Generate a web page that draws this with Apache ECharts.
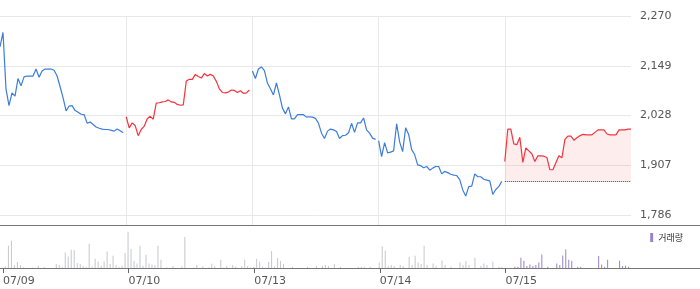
<!DOCTYPE html>
<html>
<head>
<meta charset="utf-8">
<script src="https://cdn.jsdelivr.net/npm/echarts@6/dist/echarts.min.js"></script>
<style>
html, body { margin: 0; padding: 0; background: #fff; }
#chart { width: 700px; height: 289px; }
</style>
</head>
<body>
<div id="chart"></div>
<script>
// 일자 라벨, 하루 구간 수
var dayLabels = ['07/09', '07/10', '07/13', '07/14', '07/15'];
var stepsPerDay = 42;

// 가격 (일자별)
var price0709 = [2195, 2230, 2092, 2052, 2083, 2075, 2118, 2100, 2122, 2124,
                 2124, 2124, 2141, 2121, 2136, 2141, 2141, 2141, 2138, 2124,
                 2098, 2071, 2039, 2051, 2052, 2040, 2036, 2031, 2030, 2009,
                 2012, 2006, 2000, 1997, 1995, 1994, 1994, 1992, 1990, 1995,
                 1991, 1986];
var price0710 = [2025, 1998, 2010, 2003, 1979, 1994, 2002, 2020, 2026, 2019,
                 2058, 2059, 2061, 2062, 2066, 2061, 2060, 2055, 2053, 2054,
                 2112, 2116, 2116, 2128, 2123, 2119, 2130, 2124, 2128, 2124,
                 2111, 2093, 2084, 2083, 2085, 2090, 2089, 2084, 2088, 2082,
                 2083, 2090];
var price0713 = [2136, 2118, 2141, 2146, 2137, 2107, 2093, 2078, 2107, 2078,
                 2046, 2032, 2049, 2020, 2020, 2030, 2030, 2030, 2024, 2025,
                 2024, 2021, 2009, 1985, 1972, 1990, 1995, 1993, 1989, 1972,
                 1979, 1980, 1986, 2009, 1987, 2010, 2010, 2022, 1993, 1985,
                 1973, 1970];
var price0714 = [1967, 1928, 1962, 1937, 1939, 1942, 2008, 1964, 1940, 1998,
                 1982, 1945, 1933, 1908, 1906, 1901, 1904, 1895, 1900, 1904,
                 1904, 1886, 1892, 1889, 1885, 1883, 1882, 1872, 1847, 1832,
                 1855, 1856, 1886, 1879, 1879, 1873, 1871, 1869, 1836, 1848,
                 1855, 1868];
var price0715 = [1916, 1995, 1995, 1959, 1957, 1975, 1914, 1949, 1942, 1935,
                 1916, 1930, 1930, 1929, 1926, 1896, 1896, 1913, 1930, 1925,
                 1970, 1978, 1978, 1968, 1974, 1979, 1982, 1981, 1981, 1981,
                 1987, 1993, 1993, 1993, 1983, 1981, 1981, 1981, 1993, 1993,
                 1993, 1995, 1995];

// 거래량 (일자별)
var volume0709 = [500, 1500, 22300, 27300, 3000, 6000, 3000, 800, 0, 0,
                  500, 0, 2000, 0, 1000, 0, 0, 0, 4000, 3000,
                  1200, 15600, 11600, 18300, 17700, 5000, 4000, 2000, 1000, 24300,
                  1500, 9300, 6600, 2000, 6600, 16600, 4000, 12300, 3000, 1000,
                  2000, 15000];
var volume0710 = [36300, 19000, 7000, 4600, 22300, 2000, 13300, 4600, 3600, 3000,
                  22300, 8300, 0, 500, 0, 2000, 0, 0, 1600, 31000,
                  0, 0, 500, 3000, 0, 1700, 0, 500, 4300, 2000,
                  0, 8300, 500, 2000, 0, 3000, 1600, 0, 2000, 8300,
                  2000, 500];
var volume0713 = [1000, 9300, 6300, 1500, 500, 6000, 17000, 1500, 10000, 7000,
                  4000, 0, 0, 1300, 0, 0, 0, 0, 1300, 0,
                  0, 2000, 0, 2000, 3000, 2000, 0, 4000, 0, 1300,
                  0, 0, 0, 0, 0, 1300, 1300, 1300, 0, 1300,
                  0, 0];
var volume0714 = [5600, 21600, 17600, 2000, 3000, 2000, 0, 3000, 2000, 0,
                  11000, 3000, 12300, 5600, 4000, 22300, 3000, 0, 4600, 2000,
                  0, 7600, 3000, 0, 1300, 0, 0, 5600, 3000, 7000,
                  3000, 0, 10300, 0, 2000, 4600, 3000, 0, 6600, 0,
                  1300, 1000];
var volume0715 = [0, 0, 0, 1300, 1300, 10300, 7300, 2000, 3600, 2000,
                  3000, 5600, 13600, 0, 1300, 0, 0, 4600, 3000, 12600,
                  18600, 8300, 7300, 0, 1300, 1300, 0, 0, 0, 0,
                  0, 12000, 3600, 1300, 8300, 0, 0, 0, 7300, 2000,
                  2300, 1300, 0];

var priceDays = [price0709, price0710, price0713, price0714, price0715];
var volumeDays = [volume0709, volume0710, volume0713, volume0714, volume0715];

var upColor = '#f5333d';
var downColor = '#3b7ddd';
var fontName = 'DejaVu Sans';

var chart = echarts.init(document.getElementById('chart'));
var series = [];
var lastDay = priceDays.length - 1;

// 가격 라인: 전일 종가보다 오르면 빨강, 내리면 파랑
priceDays.forEach(function (vals, k) {
    var prev = k > 0 ? priceDays[k - 1][priceDays[k - 1].length - 1] : vals[0];
    var up = vals[vals.length - 1] >= prev;
    var color = up ? upColor : downColor;
    var s = {
        type: 'line',
        xAxisIndex: 0,
        yAxisIndex: 0,
        symbol: 'none',
        silent: true,
        animation: false,
        z: 3,
        data: vals.map(function (v, j) { return [k * stepsPerDay + j, v]; }),
        lineStyle: { color: color, width: 1.2 },
        itemStyle: { color: color }
    };
    if (k === lastDay) {
        s.areaStyle = { origin: prev, color: 'rgba(245,50,60,0.13)' };
        s.markLine = {
            symbol: 'none',
            silent: true,
            animation: false,
            label: { show: false },
            lineStyle: { type: 'dotted', color: '#444', width: 1 },
            data: [[{ coord: [k * stepsPerDay, prev] }, { coord: [k * stepsPerDay + vals.length - 1, prev] }]]
        };
    }
    series.push(s);
});

// 거래량 막대
var grayVol = [];
var purpleVol = [];
volumeDays.forEach(function (vals, k) {
    vals.forEach(function (v, j) {
        (k === lastDay ? purpleVol : grayVol).push([k * stepsPerDay + j, v]);
    });
});
series.push({
    name: '이전 거래량',
    type: 'bar',
    xAxisIndex: 1,
    yAxisIndex: 1,
    barWidth: 1,
    silent: true,
    animation: false,
    itemStyle: { color: '#c5c7cc' },
    data: grayVol
});
series.push({
    name: '거래량',
    type: 'bar',
    xAxisIndex: 1,
    yAxisIndex: 1,
    barWidth: 1,
    silent: true,
    animation: false,
    itemStyle: { color: '#9883c9' },
    data: purpleVol
});

var dayTicks = dayLabels.map(function (d, i) { return i * stepsPerDay; });
var xMax = stepsPerDay * dayLabels.length;

var option = {
    animation: false,
    backgroundColor: '#fff',
    legend: {
        data: ['거래량'],
        right: 17,
        top: 233,
        padding: 0,
        icon: 'rect',
        itemWidth: 3,
        itemHeight: 9,
        selectedMode: false,
        textStyle: { fontSize: 9, color: '#333', fontFamily: 'Noto Sans CJK KR' }
    },
    grid: [
        { left: 0, right: 69, top: 16, height: 199 },
        { left: 0, right: 69, top: 225, height: 43 },
        { left: 0, right: 69, top: 16, height: 209 }
    ],
    xAxis: [
        {
            type: 'value', gridIndex: 0, min: 0, max: xMax,
            axisLine: { show: false }, axisTick: { show: false },
            axisLabel: { show: false }, splitLine: { show: false }
        },
        {
            type: 'value', gridIndex: 1, min: 0, max: xMax, interval: stepsPerDay,
            axisLine: { show: false },
            axisTick: { show: true, length: 5, customValues: dayTicks, lineStyle: { color: '#666' } },
            axisLabel: {
                customValues: dayTicks,
                align: 'left',
                margin: 8,
                color: '#555',
                fontSize: 11,
                fontFamily: fontName,
                formatter: function (v) { return dayLabels[Math.round(v / stepsPerDay)] || ''; }
            },
            splitLine: { show: false }
        },
        {
            type: 'value', gridIndex: 2, min: 0, max: xMax, interval: stepsPerDay,
            axisLine: { show: false }, axisTick: { show: false }, axisLabel: { show: false },
            splitLine: { show: true, showMinLine: false, showMaxLine: false, lineStyle: { color: '#e8e8e8' } }
        }
    ],
    yAxis: [
        {
            type: 'value', gridIndex: 0, position: 'right',
            min: 1786, max: 2270, interval: 121,
            axisLine: { show: false }, axisTick: { show: false },
            axisLabel: {
                margin: 9,
                color: '#555',
                fontSize: 11,
                fontFamily: fontName,
                formatter: function (v) { return v.toLocaleString('en-US'); }
            },
            splitLine: { lineStyle: { color: '#e8e8e8' } }
        },
        { type: 'value', gridIndex: 1, min: 0, max: 43000, show: false },
        { type: 'value', gridIndex: 2, min: 0, max: 1, show: false }
    ],
    graphic: [
        { type: 'line', silent: true, shape: { x1: 0, y1: 225.5, x2: 700, y2: 225.5 }, style: { stroke: '#777', lineWidth: 1 } },
        { type: 'line', silent: true, shape: { x1: 0, y1: 268.5, x2: 700, y2: 268.5 }, style: { stroke: '#777', lineWidth: 1 } }
    ],
    series: series
};

chart.setOption(option);
</script>
</body>
</html>
